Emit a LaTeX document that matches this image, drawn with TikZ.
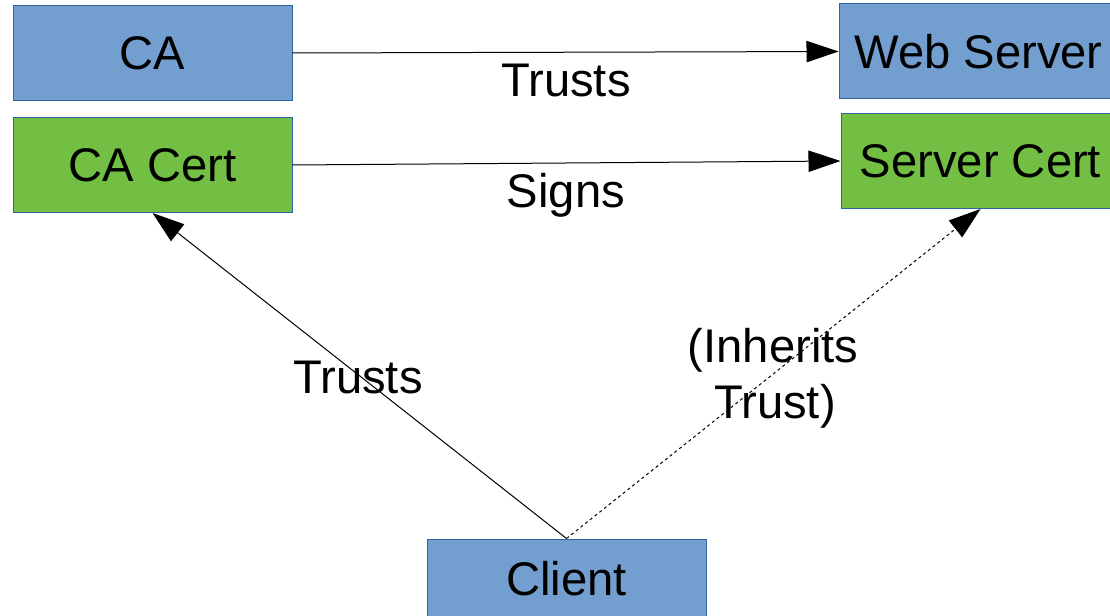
\documentclass[tikz,border=0pt]{standalone}
\usepackage{fontspec}
\setmainfont{Liberation Sans}
\usetikzlibrary{arrows.meta}
\newdimen\upx
\upx=0.75pt
\definecolor{boxblue}{HTML}{729FCF}
\definecolor{boxgreen}{HTML}{72BF44}
\definecolor{boxline}{HTML}{3465A4}
\begin{document}
\begin{tikzpicture}[x=0.75pt,y=-0.75pt,
  every node/.style={font=\fontsize{35.4}{41}\selectfont},
  entity/.style={rectangle, draw=boxline, line width=0.75pt, minimum width=279\upx, minimum height=95\upx, inner sep=0pt},
  bluebox/.style={entity, fill=boxblue},
  greenbox/.style={entity, fill=boxgreen},
  conn/.style={draw=black, line width=0.75pt, -{Triangle[length=24pt,width=16pt]}},
  lbl/.style={anchor=base, inner sep=0pt}
]
\useasboundingbox (0,0) rectangle (1110,616);
\node[bluebox] (ca) at (152.5,53) {CA};
\node[greenbox] (cacert) at (152.5,165) {CA Cert};
\node[bluebox] (web) at (978.5,51.5) {Web Server};
\node[greenbox] (srvcert) at (980.5,161) {Server Cert};
\node[bluebox, minimum height=80\upx] (client) at (566.5,579) {Client};

\draw[conn] (ca.east) -- (web.west);
\draw[conn] (cacert.east) -- (srvcert.west);
\draw[conn] (client.north) -- (cacert.south);
\draw[conn, dash pattern=on 2.25pt off 2.25pt] (client.north) -- (srvcert.south);

\node[lbl] (t1) at (566,96.5) {Trusts};
\node[lbl] (t2) at (566,208) {Signs};
\node[lbl] (t3) at (358,393) {Trusts};
\node[lbl] (t4) at (773,363) {(Inherits};
\node[lbl] (t5) at (775,418) {Trust)};
\end{tikzpicture}
\end{document}
